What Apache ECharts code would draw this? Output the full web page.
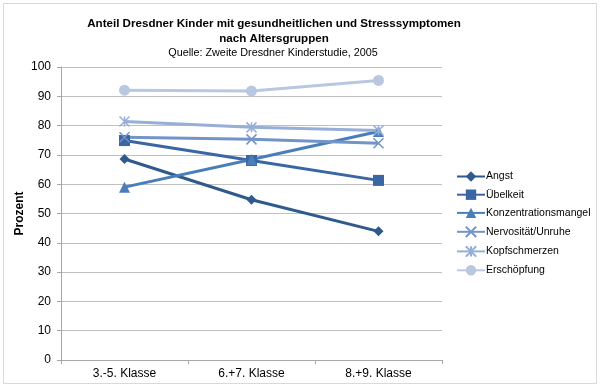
<!DOCTYPE html>
<html><head><meta charset="utf-8">
<script src="https://cdn.jsdelivr.net/npm/echarts@6/dist/echarts.min.js"></script>
<style>html,body{margin:0;padding:0;background:#fff}#c{width:600px;height:388px}</style>
</head><body><div id="c"></div>
<script>
const categories = ['3.-5. Klasse', '6.+7. Klasse', '8.+9. Klasse'];
const angst = [68.6, 54.7, 43.9];
const uebelkeit = [74.9, 68.1, 61.3];
const konzentration = [59.0, 68.4, 78.0];
const nervositaet = [76.0, 75.3, 74.0];
const kopfschmerzen = [81.4, 79.4, 78.3];
const erschoepfung = [92.1, 91.8, 95.4];
const yTicks = [0, 10, 20, 30, 40, 50, 60, 70, 80, 90, 100];

const F = 'Liberation Sans, Arial, sans-serif';
const crossPath = 'path://M0,0L10,10M10,0L0,10';
const starPath = 'path://M0,0L10,10M10,0L0,10M5,0L5,10';
function mk(name, data, color, symbol, size, stroke) {
  return {
    name, type: 'line', data, symbol, symbolSize: size,
    lineStyle: { width: 3, color },
    itemStyle: stroke ? { color: 'rgba(0,0,0,0)', borderColor: color, borderWidth: 1.5 } : { color },
    emphasis: { disabled: true }, animation: false
  };
}
const chart = echarts.init(document.getElementById('c'));
chart.setOption({
  animation: false,
  graphic: [{ type: 'rect', shape: { x: 3.5, y: 3.5, width: 593, height: 380 }, style: { fill: 'none', stroke: '#D9D9D9', lineWidth: 1 } }],
  title: [
    { text: 'Anteil Dresdner Kinder mit gesundheitlichen und Stresssymptomen\nnach Altersgruppen', left: 269, top: 11, textAlign: 'center',
      textStyle: { fontFamily: F, fontSize: 11.6, fontWeight: 'bold', color: '#000', lineHeight: 15 } },
    { text: 'Quelle: Zweite Dresdner Kinderstudie, 2005', left: 268, top: 43, textAlign: 'center',
      textStyle: { fontFamily: F, fontSize: 10.8, fontWeight: 'normal', color: '#000' } }
  ],
  legend: {
    orient: 'vertical', left: 451, top: 166, itemGap: 7.2, itemWidth: 28, itemHeight: 13,
    textStyle: { fontFamily: F, fontSize: 10.5, color: '#000', padding: [0, 0, 0, -4] },
    data: ['Angst', 'Übelkeit', 'Konzentrationsmangel', 'Nervosität/Unruhe', 'Kopfschmerzen', 'Erschöpfung']
  },
  grid: { left: 61, right: 158, top: 67, bottom: 28 },
  xAxis: {
    type: 'category', data: categories, boundaryGap: true,
    axisLine: { lineStyle: { color: '#A6A6A6' } },
    axisTick: { show: true, length: 4, lineStyle: { color: '#A6A6A6' } },
    axisLabel: { fontFamily: F, fontSize: 12, color: '#000', margin: 8 }
  },
  yAxis: {
    type: 'value', min: 0, max: 100, interval: 10,
    name: 'Prozent', nameLocation: 'middle', nameGap: 35, nameRotate: 90, nameMoveOverlap: false,
    nameTextStyle: { fontFamily: F, fontSize: 12, fontWeight: 'bold', color: '#000' },
    axisLine: { show: true, lineStyle: { color: '#A6A6A6' } },
    axisTick: { show: true, length: 4, lineStyle: { color: '#A6A6A6' } },
    axisLabel: { fontFamily: F, fontSize: 12, color: '#000', margin: 10,
      formatter: v => yTicks.includes(v) ? String(v) : '' },
    splitLine: { lineStyle: { color: '#C0C0C0', width: 1 } }
  },
  series: [
    mk('Angst', angst, '#2F5A8C', 'diamond', 10),
    mk('Übelkeit', uebelkeit, '#3A67A3', 'rect', 11),
    mk('Konzentrationsmangel', konzentration, '#4A7EBB', 'triangle', 11),
    mk('Nervosität/Unruhe', nervositaet, '#7294C9', crossPath, 10, true),
    mk('Kopfschmerzen', kopfschmerzen, '#97AFD7', starPath, 10, true),
    mk('Erschöpfung', erschoepfung, '#B9C7E1', 'circle', 11)
  ]
});
</script></body></html>
